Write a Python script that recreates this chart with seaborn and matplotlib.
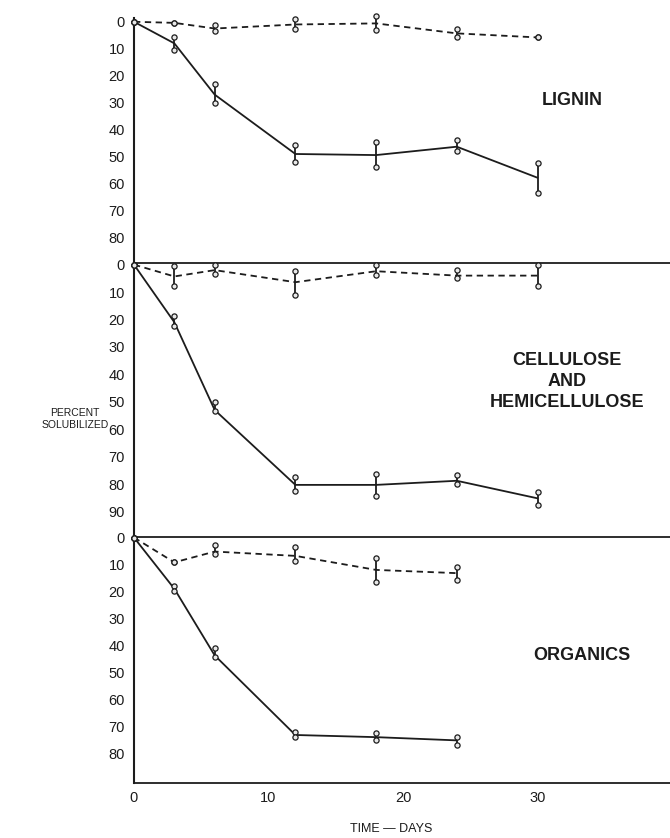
import matplotlib
matplotlib.use("Agg")
import matplotlib.pyplot as plt
import numpy as np
import pandas as pd
import seaborn as sns

# ---------------- data (percent solubilized vs. time in days) ----------------
days = [0, 3, 6, 12, 18, 24, 30]
days_org = [0, 3, 6, 12, 18, 24]

# LIGNIN
lignin_solid = [0, 8, 27, 49, 49.4, 46.3, 57.8]
lignin_solid_lo = [0, 5.5, 23, 45.5, 44.5, 43.8, 52.5]
lignin_solid_hi = [0, 10.5, 30, 52, 53.7, 47.8, 63.3]
lignin_dash = [0, 0.4, 2.5, 1.0, 0.6, 4.3, 5.8]
lignin_dash_lo = [0, 0.4, 1.2, -0.9, -2.1, 2.5, 5.8]
lignin_dash_hi = [0, 0.4, 3.5, 2.6, 3.1, 5.8, 5.8]

# CELLULOSE AND HEMICELLULOSE
cell_solid = [0, 21, 53, 80.3, 80.3, 78.8, 85.2]
cell_solid_lo = [0, 18.6, 50, 77.6, 76.3, 76.6, 83]
cell_solid_hi = [0, 22.3, 53.5, 82.4, 84.5, 80, 87.6]
cell_dash = [0, 4.3, 2.0, 6.4, 2.4, 4.0, 4.0]
cell_dash_lo = [0, 0.4, 0.0, 2.4, 0.0, 1.8, 0.0]
cell_dash_hi = [0, 7.7, 3.3, 11.0, 3.6, 4.9, 7.9]

# ORGANICS
org_solid = [0, 19, 43.7, 73.2, 74, 75.2]
org_solid_lo = [0, 17.8, 41, 72, 72.4, 73.8]
org_solid_hi = [0, 19.7, 44.3, 73.8, 75, 76.9]
org_dash = [0, 9.2, 5.2, 6.8, 12.0, 13.2]
org_dash_lo = [0, 9.2, 2.7, 3.4, 7.4, 11.1]
org_dash_hi = [0, 9.2, 6.2, 8.6, 16.6, 15.7]

panel_names = ["LIGNIN", "CELLULOSE\nAND\nHEMICELLULOSE", "ORGANICS"]
x_ticks = [0, 10, 20, 30]
y_ticks_top = [0, 10, 20, 30, 40, 50, 60, 70, 80]
y_ticks_mid = [0, 10, 20, 30, 40, 50, 60, 70, 80, 90]
y_ticks_bot = [0, 10, 20, 30, 40, 50, 60, 70, 80]


def make_df(x, solid, slo, shi, dash, dlo, dhi):
    a = pd.DataFrame({"day": x, "mean": solid, "lo": slo, "hi": shi, "series": "solid"})
    b = pd.DataFrame({"day": x, "mean": dash, "lo": dlo, "hi": dhi, "series": "dashed"})
    return pd.concat([a, b], ignore_index=True)


frames = [
    make_df(days, lignin_solid, lignin_solid_lo, lignin_solid_hi,
            lignin_dash, lignin_dash_lo, lignin_dash_hi),
    make_df(days, cell_solid, cell_solid_lo, cell_solid_hi,
            cell_dash, cell_dash_lo, cell_dash_hi),
    make_df(days_org, org_solid, org_solid_lo, org_solid_hi,
            org_dash, org_dash_lo, org_dash_hi),
]

# ---------------- style ----------------
sns.set_theme(style="white")
plt.rcParams["font.family"] = ["Liberation Sans", "DejaVu Sans"]
INK = "#1c1c1c"

W, H = 670, 838
fig = plt.figure(figsize=(W / 100, H / 100), dpi=100)

# panel pixel boundaries (top, bottom)
bounds = [(18, 263), (263, 537), (537, 783)]
ylims = [(89.4, -1.4), (99.3, -0.6), (91.0, -0.2)]
yticks = [y_ticks_top, y_ticks_mid, y_ticks_bot]
label_pos = [(32.6, 29.0), (32.2, 42.7), (33.3, 43.7)]
left_px = 134
xmax = (W - left_px) / 13.45

axes = []
for i, ((t, b), df) in enumerate(zip(bounds, frames)):
    ax = fig.add_axes([left_px / W, 1 - b / H, 1 - left_px / W, (b - t) / H])
    axes.append(ax)
    sns.lineplot(data=df, x="day", y="mean", style="series",
                 dashes={"solid": "", "dashed": (3.5, 2.5)},
                 color=INK, linewidth=1.3, legend=False, ax=ax,
                 estimator=None, sort=False)
    ax.vlines(df["day"], df["lo"], df["hi"], color=INK, linewidth=1.3,
              clip_on=False)
    ends = pd.concat([
        df[["day", "lo"]].rename(columns={"lo": "v"}),
        df[["day", "hi"]].rename(columns={"hi": "v"}),
    ], ignore_index=True)
    sns.scatterplot(data=ends, x="day", y="v", ax=ax, s=14, marker="o",
                    facecolor="#e8e8e8", edgecolor=INK, linewidth=0.9,
                    zorder=5, legend=False, clip_on=False)
    ax.set_xlim(0, xmax)
    ax.set_ylim(*ylims[i])
    ax.set_yticks(yticks[i])
    ax.set_yticklabels([str(v) for v in yticks[i]])
    ax.set_xticks(x_ticks)
    ax.set_xlabel("")
    ax.set_ylabel("")
    ax.tick_params(axis="both", length=0, labelsize=10.5, colors=INK)
    ax.tick_params(axis="y", pad=6.5)
    ax.tick_params(axis="x", pad=5.5)
    ax.spines["right"].set_visible(False)
    for s in ax.spines.values():
        s.set_color(INK)
        s.set_linewidth(1.3)
    ax.spines["left"].set_linewidth(1.5)
    if i == 0:
        ax.spines["top"].set_visible(False)
    if i < 2:
        ax.spines["bottom"].set_visible(False)
        ax.set_xticklabels([])
    else:
        ax.set_xticklabels([str(v) for v in x_ticks])
    lx, ly = label_pos[i]
    ax.text(lx, ly, panel_names[i], ha="center", va="center",
            fontsize=13, fontweight="bold", color=INK, linespacing=1.3)
    ax.set_facecolor("white")

fig.text(75 / W, 1 - 419 / H, "PERCENT\nSOLUBILIZED", ha="center", va="center",
         fontsize=7.5, color=INK, linespacing=1.2)
fig.text(391 / W, 1 - 829 / H, "TIME \u2014 DAYS", ha="center", va="center",
         fontsize=9, color=INK)

fig.savefig("out.png", dpi=100, facecolor="white")
